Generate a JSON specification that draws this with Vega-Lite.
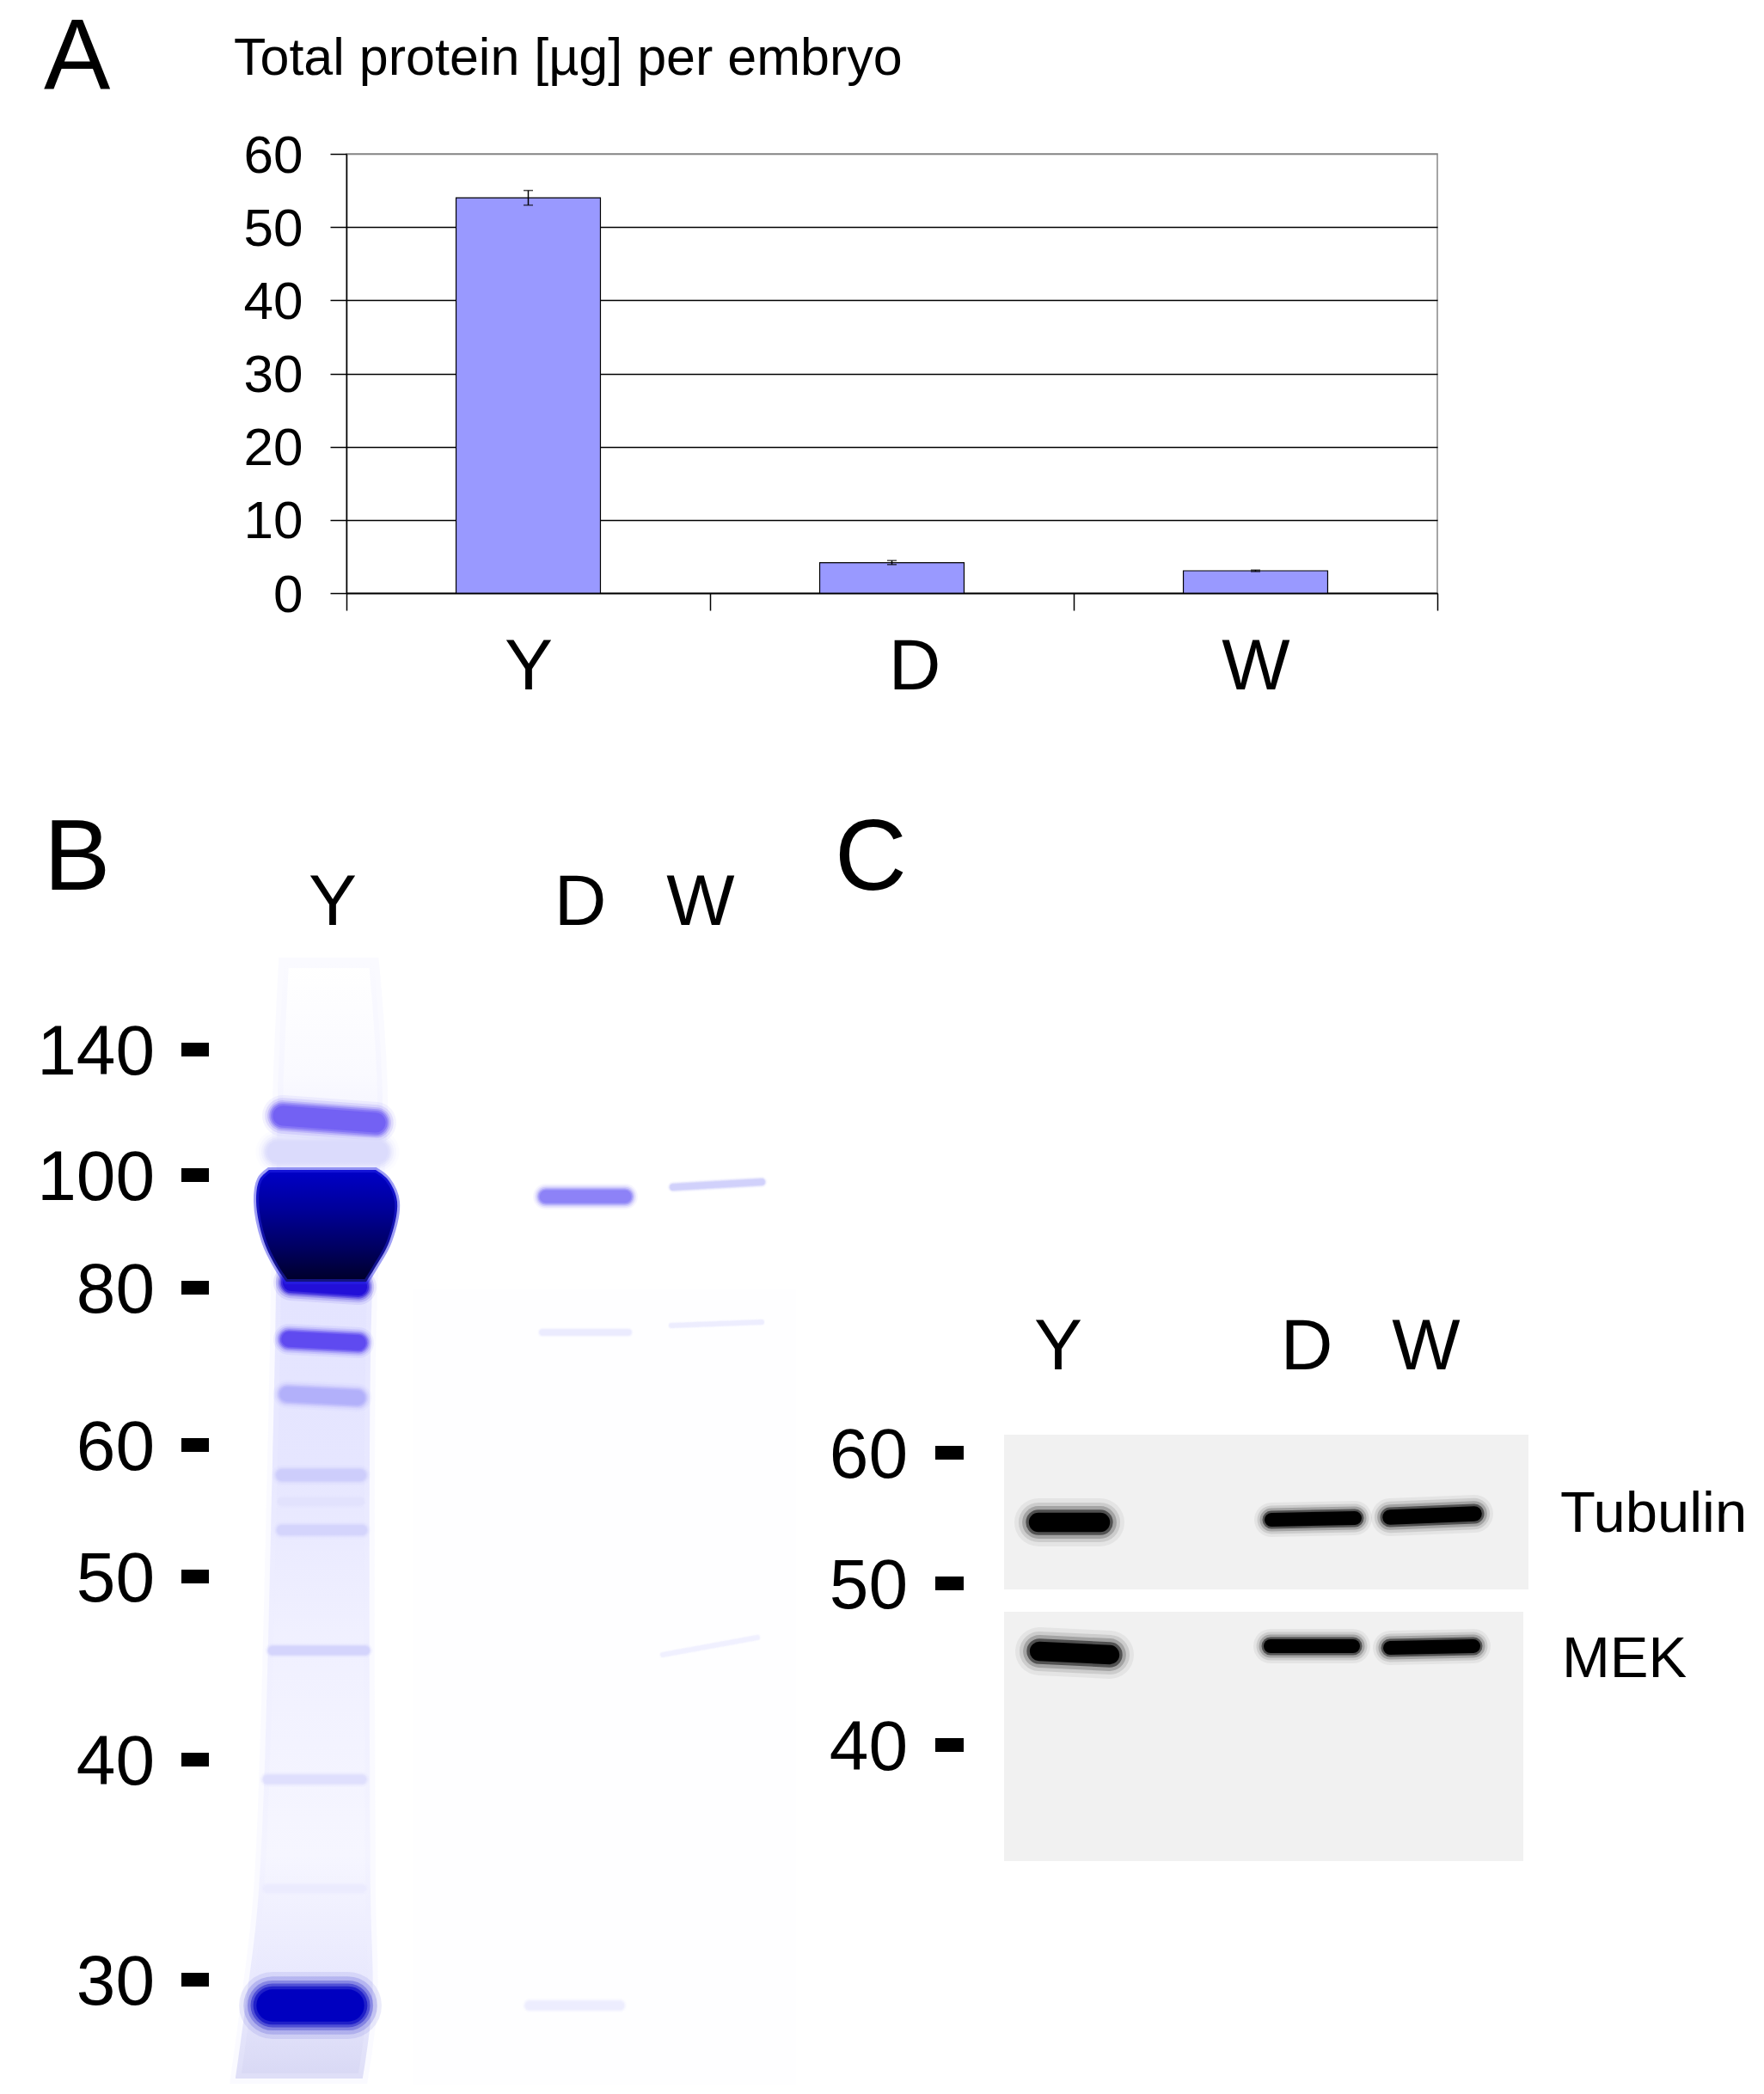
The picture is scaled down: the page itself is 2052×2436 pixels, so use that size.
{"$schema":"https://vega.github.io/schema/vega-lite/v6.json","background":"white","padding":0,"spacing":0,"config":{"view":{"stroke":null},"text":{"font":"Liberation Sans"},"axis":{"labelFont":"Liberation Sans"},"concat":{"spacing":0}},
"datasets":{
"bands":[
{"lane":"Y","xa":322,"xb":438,"ya":1340,"yb":1340,"thick":34,"stain":0.14},
{"lane":"Y","xa":328,"xb":436,"ya":1298,"yb":1306,"thick":32,"stain":0.55},
{"lane":"Y","xa":338,"xb":416,"ya":1492,"yb":1497,"thick":28,"stain":0.85},
{"lane":"Y","xa":335,"xb":416,"ya":1558,"yb":1562,"thick":24,"stain":0.62},
{"lane":"Y","xa":333,"xb":415,"ya":1622,"yb":1626,"thick":22,"stain":0.32},
{"lane":"Y","xa":327,"xb":418,"ya":1716,"yb":1716,"thick":16,"stain":0.22},
{"lane":"Y","xa":327,"xb":418,"ya":1747,"yb":1747,"thick":10,"stain":0.1},
{"lane":"Y","xa":327,"xb":420,"ya":1780,"yb":1780,"thick":14,"stain":0.18},
{"lane":"Y","xa":316,"xb":424,"ya":1920,"yb":1920,"thick":12,"stain":0.18},
{"lane":"Y","xa":310,"xb":420,"ya":2070,"yb":2070,"thick":12,"stain":0.12},
{"lane":"Y","xa":310,"xb":420,"ya":2197,"yb":2197,"thick":10,"stain":0.05},
{"lane":"Y","xa":316,"xb":404,"ya":2333,"yb":2333,"thick":52,"stain":1},
{"lane":"D","xa":634,"xb":726,"ya":1392,"yb":1392,"thick":20,"stain":0.45},
{"lane":"W","xa":782,"xb":885,"ya":1381,"yb":1375,"thick":9,"stain":0.2},
{"lane":"D","xa":630,"xb":730,"ya":1550,"yb":1550,"thick":8,"stain":0.05},
{"lane":"W","xa":780,"xb":885,"ya":1542,"yb":1538,"thick":6,"stain":0.04},
{"lane":"D","xa":615,"xb":720,"ya":2333,"yb":2333,"thick":12,"stain":0.04},
{"lane":"W","xa":770,"xb":880,"ya":1925,"yb":1905,"thick":6,"stain":0.02}
],
"blots":[
{"protein":"Tubulin","lane":"Y","xa":1207,"xb":1279,"ya":1771,"yb":1771,"thick":28},
{"protein":"Tubulin","lane":"D","xa":1478,"xb":1575,"ya":1768,"yb":1766,"thick":20},
{"protein":"Tubulin","lane":"W","xa":1616,"xb":1714,"ya":1765,"yb":1761,"thick":22},
{"protein":"MEK","lane":"Y","xa":1208,"xb":1290,"ya":1921,"yb":1925,"thick":28},
{"protein":"MEK","lane":"D","xa":1477,"xb":1573,"ya":1915,"yb":1915,"thick":20},
{"protein":"MEK","lane":"W","xa":1616,"xb":1713,"ya":1917,"yb":1915,"thick":20}
],
"lane":[
{"pos":1120,"left":329,"right":434},
{"pos":1280,"left":322,"right":444},
{"pos":1500,"left":320,"right":432},
{"pos":1700,"left":316,"right":429},
{"pos":2200,"left":300,"right":430},
{"pos":2330,"left":285,"right":432},
{"pos":2418,"left":273,"right":421}
],
"blob":[
{"pos":1361,"left":312,"right":436},
{"pos":1372,"left":301,"right":450},
{"pos":1398,"left":297,"right":461},
{"pos":1444,"left":306,"right":452},
{"pos":1475,"left":321,"right":435},
{"pos":1491,"left":332,"right":425}
],
"kda":[
{"panel":"B","label":"140","at":179,"mark1":210,"mark2":242,"pos":1221},
{"panel":"B","label":"100","at":179,"mark1":210,"mark2":242,"pos":1367},
{"panel":"B","label":"80","at":179,"mark1":210,"mark2":242,"pos":1498},
{"panel":"B","label":"60","at":179,"mark1":210,"mark2":242,"pos":1681},
{"panel":"B","label":"50","at":179,"mark1":210,"mark2":242,"pos":1834},
{"panel":"B","label":"40","at":179,"mark1":210,"mark2":242,"pos":2047},
{"panel":"B","label":"30","at":179,"mark1":210,"mark2":242,"pos":2303},
{"panel":"C","label":"60","at":1055,"mark1":1087,"mark2":1120,"pos":1690},
{"panel":"C","label":"50","at":1055,"mark1":1087,"mark2":1120,"pos":1842},
{"panel":"C","label":"40","at":1055,"mark1":1087,"mark2":1120,"pos":2030}
],
"lanes":[
{"label":"Y","at":386,"pos":1046},{"label":"D","at":674,"pos":1046},{"label":"W","at":814,"pos":1046},
{"label":"Y","at":1230,"pos":1563},{"label":"D","at":1519,"pos":1563},{"label":"W","at":1658,"pos":1563}
],
"proteins":[{"label":"Tubulin","at":1814,"pos":1758},{"label":"MEK","at":1816,"pos":1927}],
"letters":[{"label":"B","at":50,"pos":995},{"label":"C","at":970,"pos":995}],
"membranes":[
{"protein":"Tubulin","x1":1167,"x2":1777,"y1":1669,"y2":1849},
{"protein":"MEK","x1":1167,"x2":1771,"y1":1875,"y2":2165}
],
"gel":[{"x1":480,"x2":925,"y1":1500,"y2":2425}]
},
"vconcat":[
{"width":2052,"height":149,"data":{"values":[{"label":"A","at":50,"pos":69}]},
"layer":[
{"mark":{"type":"text","align":"left","baseline":"middle","fontSize":116,"font":"Liberation Sans"},
"encoding":{"x":{"field":"at","type":"quantitative","scale":{"domain":[0,2052],"nice":false,"zero":false},"axis":null},"y":{"field":"pos","type":"quantitative","scale":{"domain":[0,149],"nice":false,"reverse":true},"axis":null},"text":{"field":"label"}}},
{"data":{"values":[{"label":"Total protein [µg] per embryo","at":271,"pos":69}]},"mark":{"type":"text","align":"left","baseline":"middle","fontSize":61,"font":"Liberation Sans"},
"encoding":{"x":{"field":"at","type":"quantitative"},"y":{"field":"pos","type":"quantitative"},"text":{"field":"label"}}}
]},
{"bounds":"flush","hconcat":[
{"width":402,"height":511,"data":{"values":[{"v":0}]},"mark":{"type":"rule","opacity":0},"encoding":{}},
{"width":1269,"height":511,"view":{"stroke":"#888888","strokeWidth":1.5},
"data":{"values":[
{"sample":"Y","protein":54.0,"low":53.0,"high":55.0},
{"sample":"D","protein":4.15,"low":3.9,"high":4.45},
{"sample":"W","protein":3.05,"low":2.95,"high":3.15}
]},
"encoding":{"x":{"field":"sample","type":"nominal","sort":["Y","D","W"],"title":null,
"scale":{"padding":0},
"axis":{"labelAngle":0,"tickBand":"extent","tickSize":20,"tickColor":"#000000","tickWidth":1.5,"domainColor":"#000000","domainWidth":1.5,"labelFontSize":84,"labelColor":"#000000","labelPadding":25,"labelOffset":{"condition":{"test":"datum.value==='D'","value":26},"value":0}}}},
"layer":[
{"mark":{"type":"bar","fill":"#9999ff","stroke":"#000000","strokeWidth":1.2,"width":{"band":0.397}},
"encoding":{"y":{"field":"protein","type":"quantitative","title":null,"scale":{"domain":[0,60]},
"axis":{"values":[0,10,20,30,40,50,60],"grid":true,"gridColor":{"condition":{"test":"datum.value===60","value":"#888888"},"value":"#000000"},"gridWidth":1.5,"tickSize":19,"tickColor":"#000000","tickWidth":1.5,"domainColor":"#000000","domainWidth":1.5,"labelFontSize":62,"labelColor":"#000000","labelPadding":32,"labelBaseline":"middle","labelOffset":2}}}},
{"mark":{"type":"rule","color":"#000000","strokeWidth":1.5},"encoding":{"y":{"field":"low","type":"quantitative"},"y2":{"field":"high"}}},
{"mark":{"type":"tick","color":"#000000","thickness":1.5,"size":11},"encoding":{"y":{"field":"low","type":"quantitative"}}},
{"mark":{"type":"tick","color":"#000000","thickness":1.5,"size":11},"encoding":{"y":{"field":"high","type":"quantitative"}}}
]}
]},
{"width":2052,"height":1617,
"resolve":{"scale":{"size":"independent"}},
"layer":[
{"data":{"name":"gel"},"mark":{"type":"rect","color":"#fefeff"},"encoding":{
"x":{"field":"x1","type":"quantitative","scale":{"domain":[0,2052],"nice":false,"zero":false},"axis":null},"x2":{"field":"x2"},
"y":{"field":"y1","type":"quantitative","scale":{"domain":[819,2436],"nice":false,"zero":false,"reverse":true},"axis":null},"y2":{"field":"y2"}}},
{"data":{"name":"lane"},"mark":{"type":"area","orient":"horizontal","interpolate":"catmull-rom","stroke":"#eeeeff","strokeWidth":12,"strokeOpacity":0.3,"fill":{"gradient":"linear","x1":0,"y1":0,"x2":0,"y2":1,"stops":[{"offset":0,"color":"#ffffff"},{"offset":0.1,"color":"#fafaff"},{"offset":0.2,"color":"#eeeeff"},{"offset":0.3,"color":"#e4e4ff"},{"offset":0.45,"color":"#e6e6ff"},{"offset":0.6,"color":"#f0f0ff"},{"offset":0.8,"color":"#f6f6ff"},{"offset":0.93,"color":"#e6e6fd"},{"offset":1,"color":"#d8d8f4"}]}},
"encoding":{"y":{"field":"pos","type":"quantitative"},"x":{"field":"left","type":"quantitative"},"x2":{"field":"right"}}},
{"data":{"name":"bands"},"mark":{"type":"rule","strokeCap":"round","opacity":0.08},"encoding":{"x":{"field":"xa","type":"quantitative"},"x2":{"field":"xb"},"y":{"field":"ya","type":"quantitative"},"y2":{"field":"yb"},"size":{"field":"thick","type":"quantitative","legend":null,"scale":{"domain":[0,100],"range":[0,150]}},"color":{"field":"stain","type":"quantitative","legend":null,"scale":{"domain":[0,0.25,0.5,0.75,1],"range":["#f4f4ff","#c8c8fa","#8070f5","#3018e8","#0000c0"]}}}},
{"data":{"name":"bands"},"mark":{"type":"rule","strokeCap":"round","opacity":0.15},"encoding":{"x":{"field":"xa","type":"quantitative"},"x2":{"field":"xb"},"y":{"field":"ya","type":"quantitative"},"y2":{"field":"yb"},"size":{"field":"thick","type":"quantitative","legend":null,"scale":{"domain":[0,100],"range":[0,130]}},"color":{"field":"stain","type":"quantitative","legend":null}}},
{"data":{"name":"bands"},"mark":{"type":"rule","strokeCap":"round","opacity":0.25},"encoding":{"x":{"field":"xa","type":"quantitative"},"x2":{"field":"xb"},"y":{"field":"ya","type":"quantitative"},"y2":{"field":"yb"},"size":{"field":"thick","type":"quantitative","legend":null,"scale":{"domain":[0,100],"range":[0,112]}},"color":{"field":"stain","type":"quantitative","legend":null}}},
{"data":{"name":"bands"},"mark":{"type":"rule","strokeCap":"round","opacity":0.4},"encoding":{"x":{"field":"xa","type":"quantitative"},"x2":{"field":"xb"},"y":{"field":"ya","type":"quantitative"},"y2":{"field":"yb"},"size":{"field":"thick","type":"quantitative","legend":null,"scale":{"domain":[0,100],"range":[0,98]}},"color":{"field":"stain","type":"quantitative","legend":null}}},
{"data":{"name":"bands"},"mark":{"type":"rule","strokeCap":"round","opacity":0.6},"encoding":{"x":{"field":"xa","type":"quantitative"},"x2":{"field":"xb"},"y":{"field":"ya","type":"quantitative"},"y2":{"field":"yb"},"size":{"field":"thick","type":"quantitative","legend":null,"scale":{"domain":[0,100],"range":[0,86]}},"color":{"field":"stain","type":"quantitative","legend":null}}},
{"data":{"name":"bands"},"mark":{"type":"rule","strokeCap":"round","opacity":1},"encoding":{"x":{"field":"xa","type":"quantitative"},"x2":{"field":"xb"},"y":{"field":"ya","type":"quantitative"},"y2":{"field":"yb"},"size":{"field":"thick","type":"quantitative","legend":null,"scale":{"domain":[0,100],"range":[0,72]}},"color":{"field":"stain","type":"quantitative","legend":null}}},
{"data":{"name":"blob"},"mark":{"type":"area","orient":"horizontal","interpolate":"catmull-rom","stroke":"#2a2ae8","strokeWidth":6,"strokeOpacity":0.45,"fill":{"gradient":"linear","x1":0,"y1":0,"x2":0,"y2":1,"stops":[{"offset":0,"color":"#0000c8"},{"offset":0.35,"color":"#00009a"},{"offset":0.7,"color":"#000060"},{"offset":1,"color":"#000028"}]}},
"encoding":{"y":{"field":"pos","type":"quantitative"},"x":{"field":"left","type":"quantitative"},"x2":{"field":"right"}}},
{"data":{"name":"membranes"},"mark":{"type":"rect","color":"#f1f1f1"},"encoding":{"x":{"field":"x1","type":"quantitative"},"x2":{"field":"x2"},"y":{"field":"y1","type":"quantitative"},"y2":{"field":"y2"}}},
{"data":{"name":"blots"},"mark":{"type":"rule","strokeCap":"round","opacity":0.05,"color":"#000000"},"encoding":{"x":{"field":"xa","type":"quantitative"},"x2":{"field":"xb"},"y":{"field":"ya","type":"quantitative"},"y2":{"field":"yb"},"size":{"field":"thick","type":"quantitative","legend":null,"scale":{"domain":[0,100],"range":[0,200]}}}},
{"data":{"name":"blots"},"mark":{"type":"rule","strokeCap":"round","opacity":0.1,"color":"#000000"},"encoding":{"x":{"field":"xa","type":"quantitative"},"x2":{"field":"xb"},"y":{"field":"ya","type":"quantitative"},"y2":{"field":"yb"},"size":{"field":"thick","type":"quantitative","legend":null,"scale":{"domain":[0,100],"range":[0,165]}}}},
{"data":{"name":"blots"},"mark":{"type":"rule","strokeCap":"round","opacity":0.2,"color":"#000000"},"encoding":{"x":{"field":"xa","type":"quantitative"},"x2":{"field":"xb"},"y":{"field":"ya","type":"quantitative"},"y2":{"field":"yb"},"size":{"field":"thick","type":"quantitative","legend":null,"scale":{"domain":[0,100],"range":[0,135]}}}},
{"data":{"name":"blots"},"mark":{"type":"rule","strokeCap":"round","opacity":0.5,"color":"#000000"},"encoding":{"x":{"field":"xa","type":"quantitative"},"x2":{"field":"xb"},"y":{"field":"ya","type":"quantitative"},"y2":{"field":"yb"},"size":{"field":"thick","type":"quantitative","legend":null,"scale":{"domain":[0,100],"range":[0,105]}}}},
{"data":{"name":"blots"},"mark":{"type":"rule","strokeCap":"round","opacity":1,"color":"#000000"},"encoding":{"x":{"field":"xa","type":"quantitative"},"x2":{"field":"xb"},"y":{"field":"ya","type":"quantitative"},"y2":{"field":"yb"},"size":{"field":"thick","type":"quantitative","legend":null,"scale":{"domain":[0,100],"range":[0,80]}}}},
{"data":{"name":"kda"},"mark":{"type":"text","align":"right","baseline":"middle","fontSize":82,"color":"#000000","font":"Liberation Sans","dy":4},"encoding":{"x":{"field":"at","type":"quantitative"},"y":{"field":"pos","type":"quantitative"},"text":{"field":"label"}}},
{"data":{"name":"kda"},"mark":{"type":"rule","color":"#000000","strokeWidth":16},"encoding":{"x":{"field":"mark1","type":"quantitative"},"x2":{"field":"mark2"},"y":{"field":"pos","type":"quantitative"}}},
{"data":{"name":"lanes"},"mark":{"type":"text","align":"center","baseline":"middle","fontSize":84,"color":"#000000","font":"Liberation Sans","dy":5},"encoding":{"x":{"field":"at","type":"quantitative"},"y":{"field":"pos","type":"quantitative"},"text":{"field":"label"}}},
{"data":{"name":"proteins"},"mark":{"type":"text","align":"left","baseline":"middle","fontSize":67,"color":"#000000","font":"Liberation Sans","dy":4},"encoding":{"x":{"field":"at","type":"quantitative"},"y":{"field":"pos","type":"quantitative"},"text":{"field":"label"}}},
{"data":{"name":"letters"},"mark":{"type":"text","align":"left","baseline":"middle","fontSize":116,"color":"#000000","font":"Liberation Sans","dy":5},"encoding":{"x":{"field":"at","type":"quantitative"},"y":{"field":"pos","type":"quantitative"},"text":{"field":"label"}}}
]}
]}
